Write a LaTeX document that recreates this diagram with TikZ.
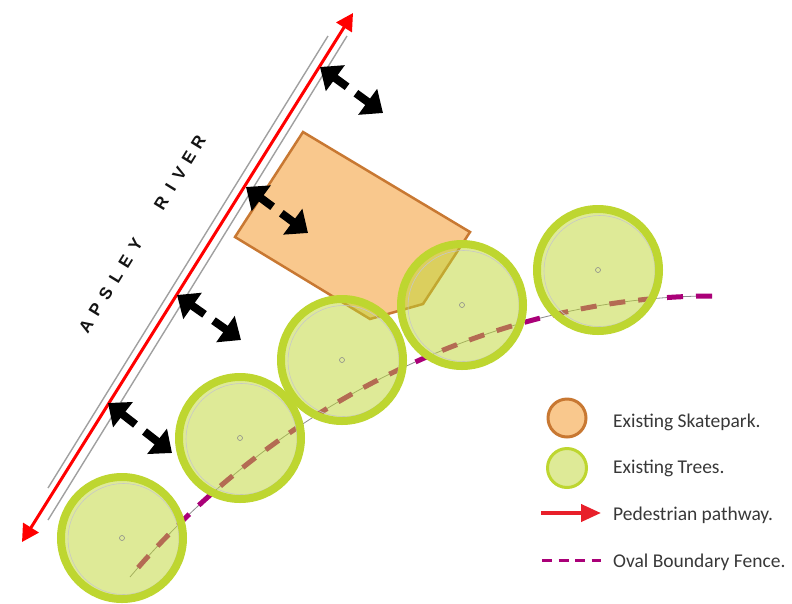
\documentclass[tikz,border=0pt]{standalone}
\usepackage{fontspec}
\setmainfont{Carlito}
\newfontfamily\riverfont{Liberation Sans}
\usetikzlibrary{arrows.meta,calc}

\definecolor{parkfill}{RGB}{249,200,141}
\definecolor{parkline}{RGB}{200,120,50}
\definecolor{treeline}{RGB}{190,214,48}
\definecolor{treefill}{RGB}{222,234,151}
\definecolor{fencecol}{RGB}{170,0,120}
\definecolor{walkred}{RGB}{255,0,0}
\definecolor{keyred}{RGB}{232,32,42}
\definecolor{bankgray}{RGB}{160,160,160}

\begin{document}
\begin{tikzpicture}[x=1pt,y=-1pt,
        bank/.style={draw=bankgray, line width=1.4pt},
        walkway/.style={draw=walkred, line width=3pt, {Triangle[length=17pt,width=18pt]}-{Triangle[length=17pt,width=18pt]}},
        gaparrow/.style={line width=8pt, -{Triangle[length=19pt,width=31pt]}},
        park/.style={draw=parkline, fill=parkfill, line width=2.5pt, line join=miter},
        fenceline/.style={draw=black!45, line width=0.8pt},
        fencedash/.style={draw=fencecol, line width=5pt, dash pattern=on 16pt off 13pt},
        tree/.style={circle, draw=treeline, line width=8pt, fill=treeline, fill opacity=0.5,
            minimum size=122pt, inner sep=0pt,
            path picture={
                \draw[black!22, line width=0.6pt] ([xshift=1.5pt,yshift=-1pt]path picture bounding box.center) circle (55.5pt);
                \draw[black!45, line width=0.6pt] (path picture bounding box.center) circle (2.5pt);}},
        rivertxt/.style={font=\riverfont\bfseries\fontsize{17}{17}\selectfont, text=black!92, inner sep=0pt, transform shape},
        parkkey/.style={circle, draw=parkline, fill=parkfill, line width=3pt, minimum size=38pt, inner sep=0pt},
        treekey/.style={circle, draw=treeline, fill=treefill, line width=3pt, minimum size=39pt, inner sep=0pt},
        keypath/.style={draw=keyred, line width=4pt, -{Triangle[length=20pt,width=17pt]}},
        keyfence/.style={draw=fencecol, line width=3pt, dash pattern=on 10pt off 6.5pt},
        keytext/.style={anchor=base west, inner sep=0pt, text=black!78, font=\fontsize{19.5}{22}\selectfont}
    ]

        \useasboundingbox (0,0) rectangle (792,603);

        \draw[bank] (48,488) -- (328,36);
        \draw[bank] (48,520) -- (347,36);

        \coordinate (walksw) at (22,542);
        \coordinate (walkne) at (353,13);
        \draw[walkway] (walksw) -- (walkne);

        \draw[park] (303,132) -- (470,232) -- (423,304) -- (370,319) -- (235,237) -- cycle;

        \coordinate (gap1n) at (320,67);
        \coordinate (gap1s) at (383,113);
        \coordinate (gap2n) at (246,187);
        \coordinate (gap2s) at (308,233);
        \coordinate (gap3n) at (177,295);
        \coordinate (gap3s) at (241,340);
        \coordinate (gap4n) at (108,403);
        \coordinate (gap4s) at (172,453);

        \draw[gaparrow] ($(gap1n)!0.43!(gap1s)$) -- (gap1n);
        \draw[gaparrow] ($(gap1n)!0.57!(gap1s)$) -- (gap1s);
        \draw[gaparrow] ($(gap2n)!0.43!(gap2s)$) -- (gap2n);
        \draw[gaparrow] ($(gap2n)!0.57!(gap2s)$) -- (gap2s);
        \draw[gaparrow] ($(gap3n)!0.43!(gap3s)$) -- (gap3n);
        \draw[gaparrow] ($(gap3n)!0.57!(gap3s)$) -- (gap3s);
        \draw[gaparrow] ($(gap4n)!0.43!(gap4s)$) -- (gap4n);
        \draw[gaparrow] ($(gap4n)!0.57!(gap4s)$) -- (gap4s);

        \coordinate (fencesw) at (130,577);
        \coordinate (fencee) at (712,296);
        \draw[fenceline] (fencesw) .. controls (280,400) and (500,296) .. (fencee);
        \draw[fencedash] (fencee) .. controls (500,296) and (280,400) .. (fencesw);

        \node[tree] (tree1) at (122,538) {};
        \node[tree] (tree2) at (240,438) {};
        \node[tree] (tree3) at (342,360) {};
        \node[tree] (tree4) at (462,305) {};
        \node[tree] (tree5) at (598,270) {};

        \begin{scope}[shift={(86,326)}, rotate=58.5]
            \foreach \d/\c [count=\i] in {0/A,19/P,38/S,57/L,76/E,95/Y,144/R,162/I,179/V,197/E,215/R}
                \node[rivertxt] (river\i) at (\d,0) {\c};
        \end{scope}

        \node[parkkey] (keypark) at (567,418) {};
        \node[treekey] (keytree) at (567,468) {};
        \coordinate (keywalkw) at (541,513);
        \coordinate (keywalke) at (601,513);
        \draw[keypath] (keywalkw) -- (keywalke);
        \coordinate (keyfencew) at (542,560);
        \coordinate (keyfencee) at (601,560);
        \draw[keyfence] (keyfencew) -- (keyfencee);

        \node[keytext] (txtpark) at (613,427) {Existing Skatepark.};
        \node[keytext] (txttree) at (613,473) {Existing Trees.};
        \node[keytext] (txtwalk) at (613,520) {Pedestrian pathway.};
        \node[keytext] (txtfence) at (613,567) {Oval Boundary Fence.};

\end{tikzpicture}
\end{document}
